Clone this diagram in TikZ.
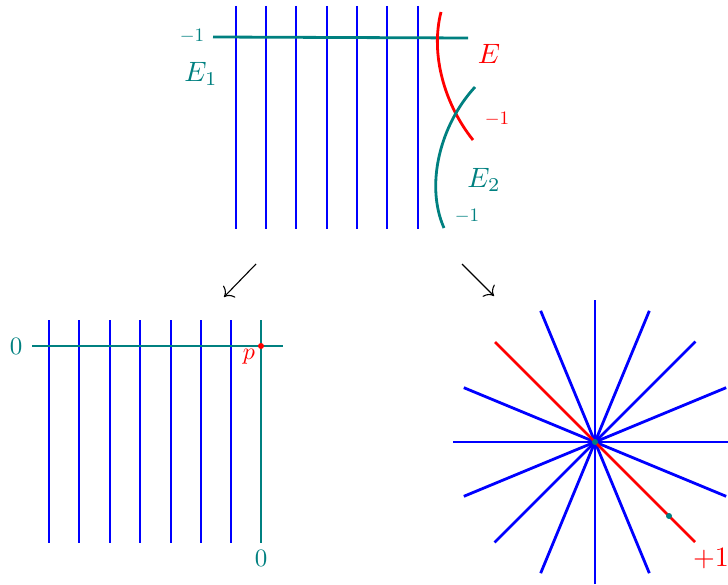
\documentclass[tikz,border=0pt]{standalone}
\usetikzlibrary{calc,arrows.meta}
\definecolor{tealc}{RGB}{0,128,128}
\tikzset{
  bl/.style={draw=blue,line width=2.8pt},
  tl/.style={draw=tealc,line width=2.8pt},
  rl/.style={draw=red,line width=2.8pt},
  arr/.style={draw=black,line width=1.1pt,-{To[scale=2]}},
  lab/.style={inner sep=0pt,scale=2.5},
  biglab/.style={inner sep=0pt,scale=2.8},
  smlab/.style={inner sep=0pt,scale=1.9},
  tdot/.style={circle,fill=tealc,inner sep=0pt,minimum size=6pt},
  rdot/.style={circle,fill=red,inner sep=0pt,minimum size=6pt}
}
\begin{document}
\begin{tikzpicture}[x=1pt,y=-1pt]
\useasboundingbox (0,0) rectangle (728,585);
% ---- top part ----
\foreach \x in {236,266,296,327,357,387,418}{
  \draw[bl] (\x,6) -- (\x,229);
}
\draw[tl] (213,37) -- (468,38);
\draw[rl] (441,12) .. controls (430,55) and (445,105) .. (473,140);
\draw[tl] (475,87) .. controls (440,125) and (425,185) .. (444,228);
\node[smlab,text=tealc] (m1a) at (192,36) {$-1$};
\node[biglab,text=tealc] (e1) at (201,74) {$E_1$};
\node[biglab,text=red] (e) at (489,54) {$E$};
\node[smlab,text=red] (m1b) at (497,119) {$-1$};
\node[biglab,text=tealc] (e2) at (484,180) {$E_2$};
\node[smlab,text=tealc] (m1c) at (467,216) {$-1$};
% ---- arrows ----
\coordinate (a1s) at (256,264);
\coordinate (a1e) at (224,297);
\coordinate (a2s) at (462,264);
\coordinate (a2e) at (494,296);
\draw[arr] (a1s) -- (a1e);
\draw[arr] (a2s) -- (a2e);
% ---- bottom left ----
\foreach \x in {49,79,110,140,171,201,231}{
  \draw[bl] (\x,320) -- (\x,543);
}
\draw[tl] (261,320) -- (261,543);
\draw[tl] (32,346) -- (283,346);
\node[rdot] (p) at (261,346) {};
\node[lab,text=tealc] (z1) at (16,346) {$0$};
\node[lab,scale=0.96,text=red] (pl) at (249,357) {$p$};
\node[lab,text=tealc] (z2) at (261,558) {$0$};
% ---- bottom right ----
\coordinate (c) at (595,442);
\foreach \a in {0,22.5,67.5,90,112.5,135,157.5}{
  \draw[bl] ($(c)+(\a:142)$) -- ($(c)+(\a+180:142)$);
}
\draw[rl] (495,342) -- (695,542);
\node[tdot] (cd) at (c) {};
\node[tdot] (qd) at (669,516) {};
\node[biglab,text=red] (p1) at (711,559) {$+1$};
\end{tikzpicture}
\end{document}
